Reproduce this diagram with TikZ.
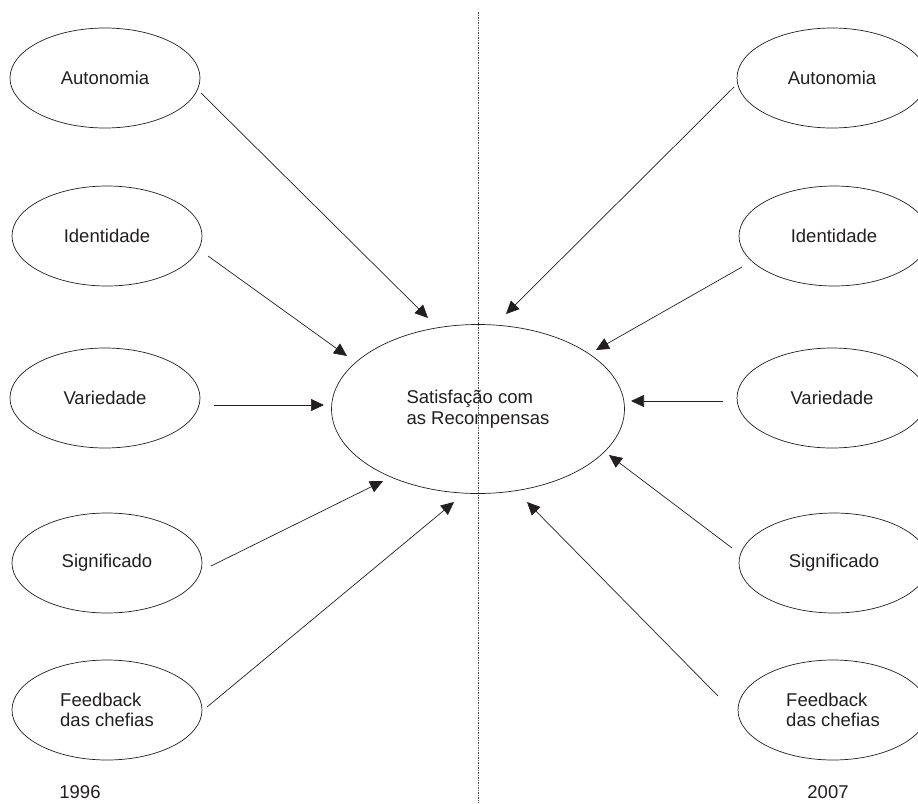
\documentclass[tikz,border=0pt]{standalone}
\usepackage{fontspec}
\setmainfont{Liberation Sans}
\usetikzlibrary{shapes.geometric,arrows.meta}
\definecolor{ink}{HTML}{231F20}
\tikzset{
  factor/.style={ellipse,draw=ink,line width=0.7pt,minimum width=190pt,minimum height=100pt,inner sep=0pt,text=ink,font=\fontsize{18.5}{20.5}\selectfont,align=left},
  core/.style={ellipse,draw=ink,line width=0.7pt,minimum width=293pt,minimum height=169pt,inner sep=0pt,text=ink,font=\fontsize{18.5}{20.5}\selectfont,align=left},
  yearlbl/.style={text=ink,font=\fontsize{18.5}{20.5}\selectfont,inner sep=0pt},
  link/.style={draw=ink,line width=0.7pt,-{Triangle[length=13pt,width=12pt]}},
  divider/.style={draw=ink!80,line width=0.6pt,dash pattern=on 1.5pt off 1pt}
}
\begin{document}
\begin{tikzpicture}[x=1pt,y=-1pt]
\clip (0,0) rectangle (918,803);
\fill[white] (0,0) rectangle (918,803);

% divider
\coordinate (dtop) at (478,12);
\coordinate (dbot) at (478,803);
\draw[divider] (dtop) -- (dbot);

% central node
\node[core] (sat) at (478,409) {Satisfação com\\as Recompensas};

% left (1996)
\node[factor] (lA) at (105,78) {Autonomia};
\node[factor] (lI) at (107,236) {Identidade};
\node[factor] (lV) at (105,398) {Variedade};
\node[factor] (lS) at (107,563) {Significado};
\node[factor] (lF) at (107,710) {Feedback\\das chefias};

% right (2007)
\node[factor] (rA) at (832,78) {Autonomia};
\node[factor] (rI) at (834,236) {Identidade};
\node[factor] (rV) at (832,398) {Variedade};
\node[factor] (rS) at (834,563) {Significado};
\node[factor] (rF) at (833,710) {Feedback\\das chefias};

% years
\node[yearlbl] (y1) at (80,792) {1996};
\node[yearlbl] (y2) at (828,792) {2007};

% arrow end points
\coordinate (lAs) at (201,93);  \coordinate (lAe) at (428,318);
\coordinate (lIs) at (208,256); \coordinate (lIe) at (347,356);
\coordinate (lVs) at (214,405); \coordinate (lVe) at (324,405);
\coordinate (lSs) at (211,566); \coordinate (lSe) at (383,481);
\coordinate (lFs) at (207,707); \coordinate (lFe) at (454,502);
\coordinate (rAs) at (734,87);  \coordinate (rAe) at (506,314);
\coordinate (rIs) at (742,267); \coordinate (rIe) at (596,350);
\coordinate (rVs) at (723,401); \coordinate (rVe) at (631,401);
\coordinate (rSs) at (732,548); \coordinate (rSe) at (609,455);
\coordinate (rFs) at (718,696); \coordinate (rFe) at (527,502);

\draw[link] (lAs) -- (lAe);
\draw[link] (lIs) -- (lIe);
\draw[link] (lVs) -- (lVe);
\draw[link] (lSs) -- (lSe);
\draw[link] (lFs) -- (lFe);
\draw[link] (rAs) -- (rAe);
\draw[link] (rIs) -- (rIe);
\draw[link] (rVs) -- (rVe);
\draw[link] (rSs) -- (rSe);
\draw[link] (rFs) -- (rFe);
\end{tikzpicture}
\end{document}
